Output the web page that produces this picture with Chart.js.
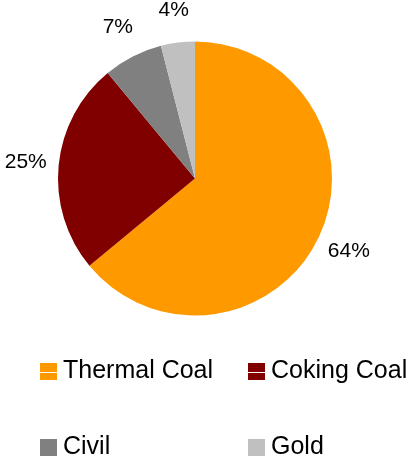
<!DOCTYPE html>
<html>
<head>
<meta charset="utf-8">
<script src="https://cdn.jsdelivr.net/npm/chart.js@4"></script>
<style>
  html, body { margin: 0; padding: 0; background: #fff; }
  #wrap { width: 412px; height: 457px; position: relative; }
</style>
</head>
<body>
<div id="wrap"><canvas id="chart" width="412" height="457"></canvas></div>
<script>
// values
var categories = ['Thermal Coal', 'Coking Coal', 'Civil', 'Gold'];
var shares = [64, 25, 7, 4];
var colours = ['#FF9900', '#800000', '#808080', '#C0C0C0'];
var FONT = '"Liberation Sans", Arial, sans-serif';

// percent labels outside each slice
var outsideLabels = {
    id: 'outsideLabels',
    afterDatasetsDraw: function (chart) {
        var ctx = chart.ctx;
        var meta = chart.getDatasetMeta(0);
        ctx.save();
        ctx.font = '21px ' + FONT;
        ctx.fillStyle = '#000';
        ctx.textAlign = 'center';
        ctx.textBaseline = 'middle';
        meta.data.forEach(function (arc, i) {
            var p = arc.getProps(['x', 'y', 'startAngle', 'endAngle', 'outerRadius'], true);
            var mid = (p.startAngle + p.endAngle) / 2;
            var r = p.outerRadius + 33;
            ctx.fillText(shares[i] + '%', p.x + Math.cos(mid) * r, p.y + Math.sin(mid) * r);
        });
        ctx.restore();
    }
};

// two column legend under the pie
var gridLegend = {
    id: 'gridLegend',
    afterDraw: function (chart) {
        var ctx = chart.ctx;
        ctx.save();
        ctx.font = '25px ' + FONT;
        ctx.textBaseline = 'alphabetic';
        categories.forEach(function (name, i) {
            var col = i % 2, row = Math.floor(i / 2);
            var x = 40 + col * 208;
            var y = 363 + row * 76;
            ctx.fillStyle = colours[i];
            ctx.fillRect(x, y, 17, 17);
            if (row == 0) {
                ctx.fillStyle = '#fff';
                ctx.fillRect(x, y + 9, 17, 1);
            }
            ctx.fillStyle = '#000';
            ctx.fillText(name, x + 23, y + 15);
        });
        ctx.restore();
    }
};

new Chart(document.getElementById('chart').getContext('2d'), {
    type: 'pie',
    data: {
        labels: categories,
        datasets: [{
            data: shares,
            backgroundColor: colours,
            borderWidth: 0
        }]
    },
    options: {
        responsive: false,
        animation: false,
        layout: { padding: { top: 41, bottom: 141, left: 58, right: 80 } },
        plugins: {
            legend: { display: false },
            tooltip: { enabled: false }
        }
    },
    plugins: [outsideLabels, gridLegend]
});
</script>
</body>
</html>
